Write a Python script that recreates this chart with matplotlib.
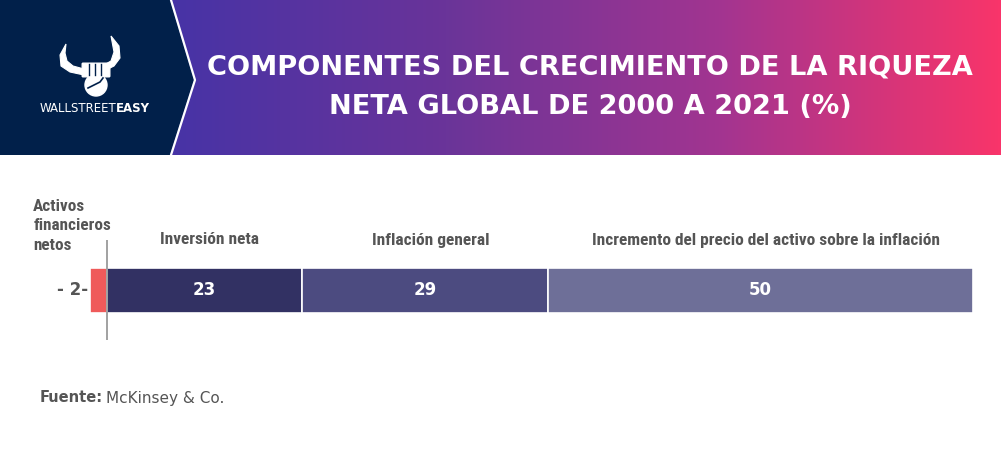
import numpy as np
import matplotlib.pyplot as plt
from matplotlib.patches import Polygon, Circle, FancyBboxPatch
from matplotlib.colors import LinearSegmentedColormap
from matplotlib.transforms import blended_transform_factory

#---------- datos ----------#
segmentos = ['Activos\nfinancieros\nnetos', 'Inversión neta', 'Inflación general',
             'Incremento del precio del activo sobre la inflación']
valores = [-2, 23, 29, 50]
colores = ['#ef5a5a', '#323163', '#4c4b80', '#6e6f98']

titulo = 'COMPONENTES DEL CRECIMIENTO DE LA RIQUEZA\nNETA GLOBAL DE 2000 A 2021 (%)'
fuente = 'McKinsey & Co.'

W, H = 1001, 450
fig = plt.figure(figsize=(W / 100, H / 100), dpi=100)
fig.patch.set_facecolor('white')

narrow = ['Roboto Condensed', 'DejaVu Sans']

#---------- cabecera ----------#
deco = fig.add_axes([0, 0, 1, 1])
deco.set_xlim(0, W)
deco.set_ylim(H, 0)
deco.axis('off')

cmap = LinearSegmentedColormap.from_list('grad', ['#4733a6', '#6a3499', '#a33490', '#f9346a'])
grad = np.linspace(0, 1, 256).reshape(1, -1)
deco.imshow(grad, cmap=cmap, aspect='auto', extent=(170, W, 155, 0), zorder=1)

navy = Polygon([(0, 0), (170, 0), (194, 80), (170, 155), (0, 155)], closed=True,
               facecolor='#01204a', edgecolor='none', zorder=2)
deco.add_patch(navy)
deco.plot([171, 195, 171], [0, 80, 155], color='white', lw=1.6, zorder=3)

# logo aproximado (cuernos + puño)
cuerno_izq = [(66, 44), (60, 55), (61, 66), (70, 72), (84, 75),
              (84, 69), (73, 66), (67, 61), (65, 53)]
cuerno_der = [(111, 36), (119, 46), (120, 58), (114, 66), (104, 71),
              (104, 65), (111, 61), (114, 52)]
for pts in (cuerno_izq, cuerno_der):
    deco.add_patch(Polygon(pts, closed=True, facecolor='white', edgecolor='white',
                           lw=0.8, zorder=4))
deco.add_patch(Circle((96, 85), 11, color='white', zorder=4))
deco.add_patch(FancyBboxPatch((83, 64), 26, 12, boxstyle='round,pad=0.8',
                              color='white', zorder=4))
for xf in (89, 95, 101):
    deco.plot([xf, xf], [64, 75], color='#01204a', lw=1, zorder=5)
deco.plot([88, 100, 103], [88, 82, 78], color='#01204a', lw=1.2, zorder=5)

deco.text(116, 108, 'WALLSTREET', ha='right', va='center', color='white', fontsize=8.5,
          family='DejaVu Sans', zorder=5)
deco.text(116, 108, 'EASY', ha='left', va='center', color='white', fontsize=8.5,
          family='DejaVu Sans', fontweight='bold', zorder=5)

deco.text(590, 87, titulo, ha='center', va='center', color='white', fontsize=19.6,
          fontweight='bold', family='DejaVu Sans', linespacing=1.7, zorder=5)

deco.text(40, 398, 'Fuente:', ha='left', va='center', color='#555555', fontsize=10.5,
          fontweight='bold', family='DejaVu Sans')
deco.text(106, 398, fuente, ha='left', va='center', color='#555555', fontsize=11,
          family='DejaVu Sans')

#---------- barra ----------#
px0, px1 = 40, 990
zero_px, end_px = 107, 973
escala = (end_px - zero_px) / sum(valores[1:])
xmin = -(zero_px - px0) / escala
xmax = (px1 - zero_px) / escala

ax = fig.add_axes([px0 / W, 1 - 340 / H, (px1 - px0) / W, 100 / H])
ax.set_xlim(xmin, xmax)
ax.set_ylim(-1, 1)
ax.axis('off')

lefts = [valores[0]] + list(np.cumsum([0] + valores[1:-1]))
widths = [abs(valores[0])] + valores[1:]
ax.barh([0] * len(valores), widths, left=lefts, height=0.9, color=colores,
        edgecolor='white', linewidth=1.2, zorder=2)
ax.axvline(0, color='#9a9a9a', lw=1.3, zorder=3)

tr = blended_transform_factory(ax.transData, fig.transFigure)
for i in range(1, len(valores)):
    c = lefts[i] + widths[i] / 2
    ax.text(c, 0, str(valores[i]), ha='center', va='center', color='white',
            fontsize=12, fontweight='bold', family='DejaVu Sans', zorder=4)
    ax.text(c + 0.6, 1 - 240 / H, segmentos[i], ha='center', va='center', transform=tr,
            color='#555555', fontsize=12.5, fontweight='bold', family=narrow,
            fontstretch='condensed')

ax.text(xmin - 0.8, 1 - 226 / H, segmentos[0], ha='left', va='center', transform=tr,
        color='#555555', fontsize=12.3, fontweight='bold', family=narrow,
        fontstretch='condensed', linespacing=1.35)
ax.text(valores[0] - 0.2, 0, '- %d-' % abs(valores[0]), ha='right', va='center',
        color='#555555', fontsize=12, fontweight='bold', family='DejaVu Sans')

fig.savefig('out.png', dpi=100)
